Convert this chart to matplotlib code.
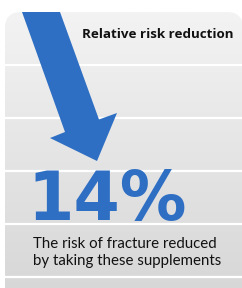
import matplotlib.pyplot as plt
import numpy as np
from matplotlib.patches import Polygon, FancyBboxPatch
from matplotlib.colors import LinearSegmentedColormap

# content
title = "Relative risk reduction"
value = 14
caption = ["The risk of fracture reduced", "by taking these supplements"]

# arrow outline in pixel space (x, y with y down)
arrow_x = [22, 60, 99, 117, 97, 50, 65]
arrow_y = [12, 12, 119.5, 113, 161, 138, 132]
stripe_y = [65, 118, 171, 224, 277]

blue = "#2e6fc4"

fig = plt.figure(figsize=(2.42, 2.88), dpi=100)
ax = fig.add_axes([0, 0, 1, 1])
ax.set_xlim(0, 242)
ax.set_ylim(288, 0)
ax.axis("off")

# gray panel with vertical gradient and rounded top-right corner
panel = FancyBboxPatch((5, 12), 238, 290, boxstyle="round,pad=0,rounding_size=16",
                       fc="none", ec="none")
ax.add_patch(panel)
grad = np.linspace(0, 1, 256).reshape(-1, 1)
cmap = LinearSegmentedColormap.from_list("g", ["#f3f3f3", "#d6d6d6"])
img = ax.imshow(grad, extent=[5, 255, 302, 12], cmap=cmap, aspect="auto", zorder=1)
img.set_clip_path(panel)

for y in stripe_y:
    ln, = ax.plot([5, 242], [y, y], color="white", lw=1.6, zorder=2)
    ln.set_clip_path(panel)

arrow = Polygon(np.column_stack([arrow_x, arrow_y]), closed=True, fc=blue, ec="none", zorder=3)
ax.add_patch(arrow)
arrow.set_clip_path(panel)

ax.text(233, 38.5, title, ha="right", va="baseline", fontsize=9.6,
        fontfamily="Open Sans", fontweight="bold", color="#111111", zorder=4)
ax.text(27, 220, f"{value}%", ha="left", va="baseline", fontsize=48,
        fontfamily="DejaVu Sans", fontweight="bold", color=blue, zorder=4)
ax.text(33, 248, caption[0], ha="left", va="baseline", fontsize=10.8,
        fontfamily="Lato", color="#111111", zorder=4)
ax.text(33, 265, caption[1], ha="left", va="baseline", fontsize=10.8,
        fontfamily="Lato", color="#111111", zorder=4)

fig.savefig("out.png", dpi=100)
